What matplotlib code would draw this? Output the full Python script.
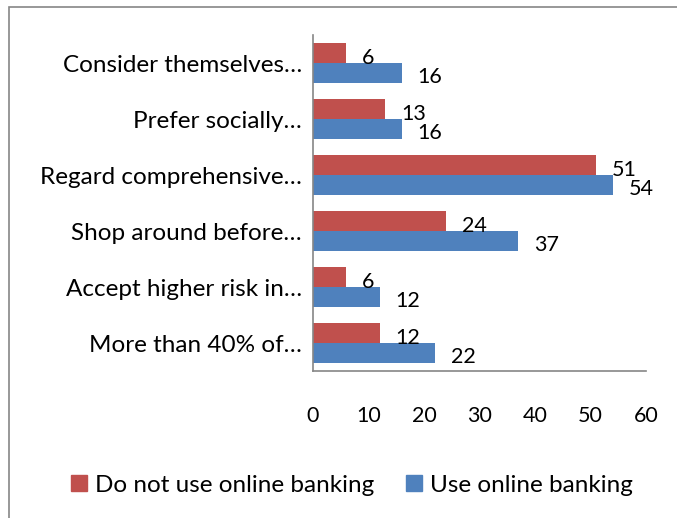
import matplotlib.pyplot as plt
import numpy as np
from matplotlib.patches import Rectangle, Patch

categories = ['Consider themselves…', 'Prefer socially…', 'Regard comprehensive…',
              'Shop around before…', 'Accept higher risk in…', 'More than 40% of…']
no_online = [6, 13, 51, 24, 6, 12]
online = [16, 16, 54, 37, 12, 22]
xticks = [0, 10, 20, 30, 40, 50, 60]

RED = '#C0504D'
BLUE = '#4F81BD'
GREY = '#868686'

plt.rcParams['font.family'] = ['Lato', 'DejaVu Sans']
TXT = 17.5
NUM = 15.5

W, H = 677, 518
fig = plt.figure(figsize=(W / 100, H / 100), dpi=100)
ax = fig.add_axes([313 / W, 1 - 371 / H, (646 - 313) / W, (371 - 35) / H])

# outer chart frame, open at the right and bottom edges
fig.patches.append(Rectangle((9 / W, -0.05), 1.1, 1 - 7 / H + 0.05, transform=fig.transFigure,
                             fill=False, edgecolor=GREY, linewidth=1.2))

y = np.arange(len(categories))[::-1].astype(float)
h = 0.365
ax.barh(y + h / 2, no_online, height=h, color=RED, label='Do not use online banking')
ax.barh(y - h / 2, online, height=h, color=BLUE, label='Use online banking')

for yi, a, b in zip(y, no_online, online):
    ax.annotate(str(a), (a, yi + h / 2), xytext=(11.5, -2.5), textcoords='offset points',
                va='center_baseline', ha='left', fontsize=NUM)
    ax.annotate(str(b), (b, yi - h / 2), xytext=(11.5, -1), textcoords='offset points',
                va='center_baseline', ha='left', fontsize=NUM)

ax.set_xlim(0, 60)
ax.set_ylim(-0.5, len(categories) - 0.5)
ax.set_xticks(xticks)
ax.set_xticklabels([str(t) for t in xticks], fontsize=NUM)
ax.set_yticks(y)
ax.set_yticklabels(categories, fontsize=TXT)
ax.tick_params(axis='x', length=0, pad=25)
ax.tick_params(axis='y', length=0, pad=8)
for s in ['top', 'right']:
    ax.spines[s].set_visible(False)
for s in ['left', 'bottom']:
    ax.spines[s].set_color(GREY)
    ax.spines[s].set_linewidth(1.2)

handles = [Patch(color=RED, label='Do not use online banking'),
           Patch(color=BLUE, label='Use online banking')]
fig.legend(handles=handles, loc='center', bbox_to_anchor=(352 / W, 1 - 485 / H), ncol=2,
           frameon=False, fontsize=TXT, handlelength=0.65, handleheight=0.65,
           handletextpad=0.35, columnspacing=1.3)

fig.savefig('out.png', dpi=100)
